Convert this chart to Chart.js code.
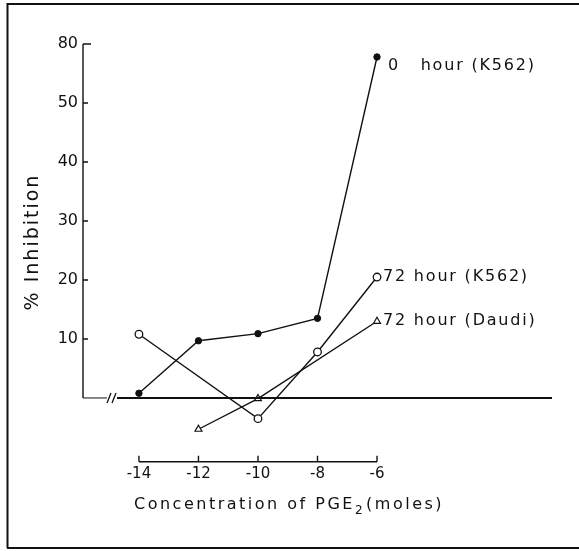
<!DOCTYPE html>
<html>
<head>
<meta charset="utf-8">
<script src="https://cdn.jsdelivr.net/npm/chart.js@4.4.1/dist/chart.umd.min.js"></script>
<style>
  html, body { margin: 0; padding: 0; background: #fff; }
  canvas { display: block; }
</style>
</head>
<body>
<canvas id="grafico" width="579" height="551"></canvas>
<script>
// Datos
const concentraciones = [-14, -12, -10, -8, -6];
const ceroHorasK562 = [0.8, 9.7, 10.9, 13.5, 57.8];
const setentaDosHorasK562 = [10.8, null, -3.5, 7.8, 20.5];
const setentaDosHorasDaudi = [null, -5.3, -0.1, null, 13.0];
const etiquetasSeries = ['0   hour (K562)', '72 hour (K562)', '72 hour (Daudi)'];
const valoresTicksY = [10, 20, 30, 40, 50, 60];
const etiquetasTicksY = ['10', '20', '30', '40', '50', '80'];
const etiquetasTicksX = ['-14', '-12', '-10', '-8', '-6'];

const aPuntos = (valores) => concentraciones
  .map((x, i) => ({ x, y: valores[i] }))
  .filter(p => p.y !== null);

const FUENTE = '"DejaVu Sans", sans-serif';

// Ejes, rotulos y marco dibujados a mano como en la figura original
const dibujoFigura = {
  id: 'dibujoFigura',
  afterDatasetsDraw(chart) {
    const { ctx, chartArea, scales: { x, y } } = chart;
    const izq = chartArea.left;
    const y0 = y.getPixelForValue(0);
    ctx.save();
    ctx.strokeStyle = '#111';
    ctx.fillStyle = '#111';

    // marco
    ctx.lineWidth = 2;
    ctx.beginPath();
    ctx.moveTo(7.5, 548);
    ctx.lineTo(7.5, 4);
    ctx.lineTo(579, 4);
    ctx.moveTo(7, 548);
    ctx.lineTo(579, 548);
    ctx.stroke();

    // eje y
    ctx.lineWidth = 1.4;
    ctx.beginPath();
    ctx.moveTo(izq, y.getPixelForValue(valoresTicksY[valoresTicksY.length - 1]));
    ctx.lineTo(izq, y0);
    valoresTicksY.forEach((v, i) => {
      const py = y.getPixelForValue(v);
      ctx.moveTo(izq, py);
      ctx.lineTo(izq + (i === valoresTicksY.length - 1 ? 8 : 5), py);
    });
    ctx.stroke();

    // linea del cero con corte
    ctx.lineWidth = 1;
    ctx.beginPath();
    ctx.moveTo(izq, y0);
    ctx.lineTo(izq + 24, y0);
    ctx.stroke();
    ctx.lineWidth = 2;
    ctx.beginPath();
    ctx.moveTo(izq + 34, y0);
    ctx.lineTo(chartArea.right, y0);
    ctx.stroke();
    ctx.lineWidth = 1.3;
    ctx.beginPath();
    ctx.moveTo(izq + 24, y0 + 5);
    ctx.lineTo(izq + 28, y0 - 5);
    ctx.moveTo(izq + 29, y0 + 5);
    ctx.lineTo(izq + 33, y0 - 5);
    ctx.stroke();

    // barra inferior de concentraciones
    const base = chartArea.bottom;
    const xIni = x.getPixelForValue(concentraciones[0]);
    const xFin = x.getPixelForValue(concentraciones[concentraciones.length - 1]);
    ctx.lineWidth = 1.4;
    ctx.beginPath();
    ctx.moveTo(xIni, base);
    ctx.lineTo(xFin, base);
    concentraciones.forEach(c => {
      const px = x.getPixelForValue(c);
      ctx.moveTo(px, base);
      ctx.lineTo(px, base - 6);
    });
    ctx.stroke();

    // titulo del eje x (con subindice)
    ctx.textAlign = 'left';
    ctx.textBaseline = 'middle';
    ctx.letterSpacing = '2.5px';
    ctx.font = '16px ' + FUENTE;
    let cx = 134;
    const parte1 = 'Concentration of PGE';
    ctx.fillText(parte1, cx, 505);
    cx += ctx.measureText(parte1).width;
    ctx.font = '12px ' + FUENTE;
    ctx.fillText('2', cx, 511);
    cx += ctx.measureText('2').width;
    ctx.font = '16px ' + FUENTE;
    ctx.fillText('(moles)', cx + 1, 505);

    // titulo del eje y
    ctx.save();
    ctx.translate(33, 242);
    ctx.rotate(-Math.PI / 2);
    ctx.textAlign = 'center';
    ctx.font = '19px ' + FUENTE;
    ctx.letterSpacing = '2px';
    ctx.fillText('% Inhibition', 0, 0);
    ctx.restore();

    // rotulos de las series
    ctx.font = '16px ' + FUENTE;
    ctx.letterSpacing = '1.8px';
    chart.data.datasets.forEach((ds, i) => {
      const ult = ds.data[ds.data.length - 1];
      const px = x.getPixelForValue(ult.x);
      const py = y.getPixelForValue(ult.y);
      ctx.fillText(etiquetasSeries[i], px + (i === 0 ? 11 : 6), py + (i === 0 ? 9 : 0));
    });
    ctx.restore();
  }
};

const estiloLinea = { borderColor: '#111', borderWidth: 1.4, showLine: true, tension: 0 };

new Chart(document.getElementById('grafico').getContext('2d'), {
  type: 'scatter',
  data: {
    datasets: [
      {
        ...estiloLinea,
        label: etiquetasSeries[0],
        data: aPuntos(ceroHorasK562),
        pointStyle: 'circle',
        pointRadius: 3.2,
        pointBackgroundColor: '#111',
        pointBorderColor: '#111',
        pointBorderWidth: 1
      },
      {
        ...estiloLinea,
        label: etiquetasSeries[1],
        data: aPuntos(setentaDosHorasK562),
        pointStyle: 'circle',
        pointRadius: 3.8,
        pointBackgroundColor: '#fff',
        pointBorderColor: '#111',
        pointBorderWidth: 1.3
      },
      {
        ...estiloLinea,
        label: etiquetasSeries[2],
        data: aPuntos(setentaDosHorasDaudi),
        pointStyle: 'triangle',
        pointRadius: 4,
        pointBackgroundColor: '#fff',
        pointBorderColor: '#111',
        pointBorderWidth: 1.2
      }
    ]
  },
  options: {
    responsive: false,
    animation: false,
    layout: { padding: { left: 0, right: 27, top: 44, bottom: 0 } },
    plugins: {
      legend: { display: false },
      tooltip: { enabled: false }
    },
    scales: {
      x: {
        type: 'linear',
        min: -15.88,
        max: -0.12,
        afterFit: (scale) => { scale.height = 89.3; },
        afterBuildTicks: (scale) => { scale.ticks = concentraciones.map(v => ({ value: v })); },
        grid: { display: false, drawTicks: false },
        border: { display: false },
        ticks: {
          color: '#111',
          padding: 3,
          font: { family: FUENTE, size: 15 },
          callback: (v) => etiquetasTicksX[concentraciones.indexOf(v)]
        }
      },
      y: {
        min: -10.8,
        max: 60,
        afterFit: (scale) => { scale.width = 83; },
        afterBuildTicks: (scale) => { scale.ticks = valoresTicksY.map(v => ({ value: v })); },
        grid: { display: false, drawTicks: false },
        border: { display: false },
        ticks: {
          color: '#111',
          padding: 5,
          font: { family: FUENTE, size: 16 },
          callback: (v) => etiquetasTicksY[valoresTicksY.indexOf(v)]
        }
      }
    }
  },
  plugins: [dibujoFigura]
});
</script>
</body>
</html>
